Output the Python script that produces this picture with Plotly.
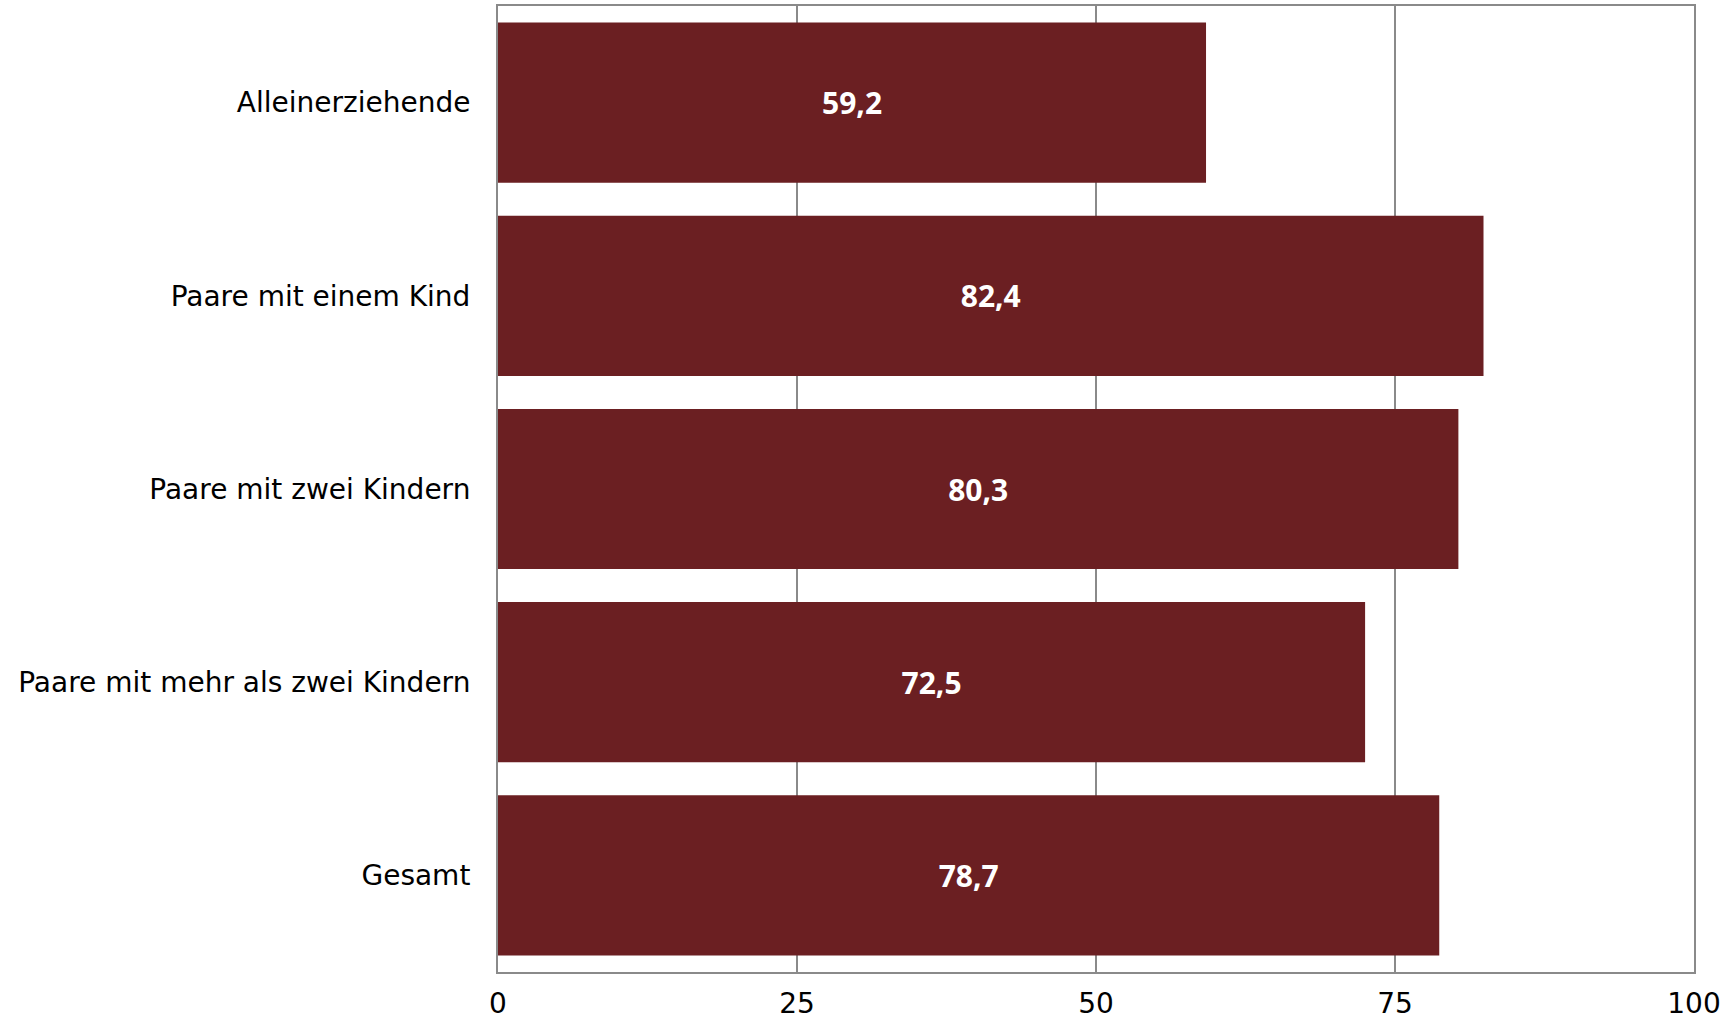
import plotly.graph_objects as go

categories = ["Alleinerziehende", "Paare mit einem Kind", "Paare mit zwei Kindern",
              "Paare mit mehr als zwei Kindern", "Gesamt"]
values = [59.2, 82.4, 80.3, 72.5, 78.7]
labels = [f"{v:.1f}".replace(".", ",") for v in values]
tick_vals = [0, 25, 50, 75, 100]

FONT = "DejaVu Sans"

fig = go.Figure(go.Bar(
    x=values, y=categories, orientation="h",
    marker=dict(color="#6B1F22", line=dict(width=0)),
    text=labels, textposition="inside", insidetextanchor="middle",
    textfont=dict(color="white", size=30, family="Open Sans", weight=700),
    texttemplate="%{text}",
    cliponaxis=False,
))

fig.update_layout(
    width=1733, height=1022,
    margin=dict(l=498, r=39, t=6, b=50, autoexpand=False),
    plot_bgcolor="white", paper_bgcolor="white",
    bargap=0.171,
    showlegend=False,
    font=dict(family=FONT, size=28, color="black"),
)
fig.update_xaxes(
    range=[0, 100], tickvals=tick_vals, ticktext=[str(t) for t in tick_vals],
    showgrid=True, gridcolor="#8a8a8a", gridwidth=1.5,
    showline=True, linecolor="#8a8a8a", linewidth=2, mirror=True,
    zeroline=False, ticks="", tickfont=dict(size=28),
    ticklabelstandoff=5, automargin=False,
)
fig.update_yaxes(
    autorange="reversed", showgrid=False,
    showline=True, linecolor="#8a8a8a", linewidth=2, mirror=True,
    ticks="", tickfont=dict(size=28), ticklabelstandoff=20, automargin=False,
)

# remove the browser's default 8px body margin so the figure fills the window
fig.write_html(
    "out.html",
    config={"displayModeBar": False},
    post_script="document.body.style.margin='0';document.body.style.overflow='hidden';",
)
